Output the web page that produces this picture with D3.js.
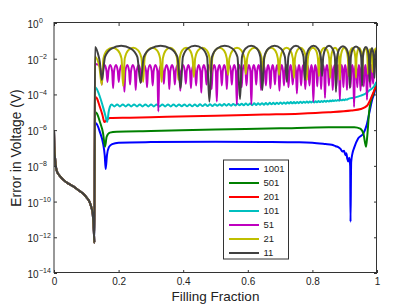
<!DOCTYPE html>
<html lang="en">
<head>
<meta charset="UTF-8">
<title>Error in Voltage</title>
<script src="https://d3js.org/d3.v7.min.js"></script>
<style>
  body { margin: 0; background: #fff; }
  text { font-family: "Liberation Sans", Arial, Helvetica, sans-serif; fill: #222; }
</style>
</head>
<body>
<svg id="chart"></svg>
<script>
var width = 415, height = 308;

// x ticks and log10 exponents of the y ticks
var xTicks = [0, 0.2, 0.4, 0.6, 0.8, 1];
var yTickExps = [0, -2, -4, -6, -8, -10, -12, -14];

var seriesNames = ["1001", "501", "201", "101", "51", "21", "11"];

// points are [filling fraction, log10(error)]
// part every run shares before the jump
var head = [[0,-6.0],[0.001,-6.9],[0.003,-7.5],[0.008,-8.25],[0.015,-8.5],[0.022,-8.65],[0.03,-8.8],
  [0.045,-9.0],[0.06,-9.15],[0.075,-9.35],[0.09,-9.55],[0.1,-9.75],[0.11,-10.02],[0.116,-10.35],
  [0.12,-10.7],[0.122,-11.2],[0.1235,-11.7],[0.125,-12.3]];

var tail1001 = [[0.127,-5.6],[0.132,-5.65],[0.142,-6.1],[0.152,-6.75],[0.157,-7.4],[0.160,-8.18],[0.164,-7.4],
  [0.17,-6.95],[0.18,-6.78],[0.2,-6.7],[0.3,-6.67],[0.5,-6.65],[0.65,-6.66],[0.76,-6.68],[0.8,-6.71],[0.84,-6.78],
  [0.86,-6.82],[0.872,-6.9],[0.88,-6.95],[0.887,-7.05],[0.893,-7.2],[0.898,-7.15],[0.902,-7.4],[0.905,-7.3],
  [0.908,-7.6],[0.911,-7.75],[0.914,-7.55],[0.917,-8.0],[0.918,-11.13],[0.92,-7.8],[0.924,-7.3],[0.93,-6.95],
  [0.942,-6.46],[0.958,-6.18],[0.968,-5.71],[0.978,-4.87],[0.985,-4.3],[0.992,-3.9],[0.998,-3.4]];

var tail501 = [[0.127,-5.0],[0.132,-5.05],[0.142,-5.53],[0.152,-6.18],[0.158,-6.93],[0.163,-6.37],[0.173,-6.14],
  [0.194,-6.09],[0.3,-6.05],[0.5,-5.97],[0.7,-5.9],[0.85,-5.84],[0.93,-5.84],[0.948,-5.92],[0.958,-6.2],
  [0.966,-6.93],[0.970,-6.3],[0.976,-4.9],[0.981,-4.4],[0.99,-3.9],[0.998,-3.4]];

var tail201 = [[0.127,-4.15],[0.132,-4.2],[0.142,-4.7],[0.150,-5.15],[0.156,-5.55],[0.163,-5.42],[0.173,-5.32],
  [0.235,-5.3],[0.35,-5.25],[0.5,-5.2],[0.65,-5.13],[0.76,-5.08],[0.85,-5.0],[0.92,-4.9],[0.95,-4.82],
  [0.97,-4.62],[0.978,-4.35],[0.985,-4.05],[0.992,-3.75],[0.998,-3.4]];

var tail101 = [[0.127,-3.6],[0.132,-3.68],[0.142,-4.13],[0.153,-4.78],[0.160,-5.25],[0.165,-5.53],[0.169,-5.0],[0.173,-4.7],
  [0.178,-4.56],[0.187,-4.67],[0.1955,-4.56],[0.204,-4.67],[0.213,-4.56],[0.222,-4.67],[0.2305,-4.56],[0.239,-4.67],
  [0.248,-4.56],[0.257,-4.67],[0.2655,-4.56],[0.274,-4.67],[0.283,-4.56],[0.292,-4.67],[0.3005,-4.56],[0.309,-4.67],
  [0.318,-4.56],[0.327,-4.67],[0.3355,-4.56],[0.344,-4.67],[0.353,-4.56],[0.3615,-4.67],[0.370,-4.56],[0.3785,-4.67],
  [0.387,-4.56],[0.3955,-4.66],[0.404,-4.56],[0.412,-4.66],[0.420,-4.56],[0.428,-4.66],[0.436,-4.56],[0.444,-4.66],
  [0.452,-4.55],[0.460,-4.65],[0.468,-4.55],[0.4755,-4.65],[0.483,-4.55],[0.4905,-4.65],[0.498,-4.55],
  [0.5055,-4.64],[0.513,-4.55],[0.520,-4.64],[0.527,-4.54],[0.534,-4.63],[0.541,-4.54],[0.548,-4.63],[0.555,-4.53],
  [0.5615,-4.62],[0.568,-4.52],[0.5745,-4.61],[0.581,-4.52],[0.5875,-4.61],[0.594,-4.51],[0.6005,-4.6],[0.607,-4.51],
  [0.6135,-4.6],[0.620,-4.5],[0.626,-4.59],[0.632,-4.5],[0.638,-4.58],[0.644,-4.49],[0.650,-4.58],[0.656,-4.48],
  [0.662,-4.57],[0.668,-4.47],[0.6735,-4.55],[0.679,-4.47],[0.6845,-4.55],[0.690,-4.46],[0.6955,-4.54],[0.701,-4.45],
  [0.7065,-4.53],[0.712,-4.45],[0.7175,-4.52],[0.723,-4.44],[0.728,-4.51],[0.733,-4.43],[0.738,-4.5],[0.743,-4.43],
  [0.748,-4.5],[0.753,-4.42],[0.758,-4.49],[0.763,-4.41],[0.768,-4.48],[0.773,-4.41],[0.778,-4.47],[0.783,-4.4],
  [0.7875,-4.46],[0.792,-4.39],[0.7965,-4.45],[0.801,-4.39],[0.8055,-4.45],[0.810,-4.38],[0.8145,-4.44],[0.819,-4.37],
  [0.8235,-4.43],[0.828,-4.37],[0.8325,-4.42],[0.837,-4.36],[0.8415,-4.41],[0.846,-4.35],[0.8505,-4.4],[0.855,-4.34],
  [0.859,-4.38],[0.863,-4.33],[0.867,-4.37],[0.871,-4.32],[0.875,-4.36],[0.879,-4.31],[0.883,-4.35],[0.887,-4.3],
  [0.891,-4.33],[0.895,-4.29],[0.899,-4.32],[0.903,-4.27],[0.907,-4.3],[0.911,-4.25],
  [0.93,-4.18],[0.95,-4.07],[0.965,-3.95],[0.978,-3.75],[0.99,-3.57],[0.998,-3.3]];

var tail51 = [[0.127,-2.3],[0.138,-2.35],
  [0.145,-2.7],[0.148,-3.45],[0.151,-2.7],[0.157,-2.35],
  [0.1625,-2.7],[0.1655,-3.3],[0.1685,-2.7],[0.174,-2.35],
  [0.180,-2.7],[0.183,-3.65],[0.186,-2.7],[0.192,-2.35],
  [0.1975,-2.7],[0.2005,-3.3],[0.2035,-2.7],[0.209,-2.35],
  [0.215,-2.7],[0.218,-3.85],[0.221,-2.7],[0.227,-2.35],
  [0.2325,-2.7],[0.2355,-3.45],[0.2385,-2.7],[0.244,-2.35],
  [0.250,-2.7],[0.253,-3.75],[0.256,-2.7],[0.262,-2.35],
  [0.2675,-2.7],[0.2705,-3.3],[0.2735,-2.7],[0.279,-2.35],
  [0.285,-2.7],[0.288,-3.6],[0.291,-2.7],[0.297,-2.35],
  [0.3025,-2.7],[0.3055,-3.5],[0.3085,-2.7],[0.314,-2.35],
  [0.320,-2.7],[0.323,-4.95],[0.326,-2.7],[0.3315,-2.35],
  [0.337,-2.7],[0.340,-3.4],[0.343,-2.7],[0.3485,-2.35],
  [0.354,-2.7],[0.357,-3.7],[0.360,-2.7],[0.3655,-2.35],
  [0.371,-2.7],[0.374,-3.45],[0.377,-2.7],[0.3825,-2.35],
  [0.388,-2.7],[0.391,-3.8],[0.394,-2.7],[0.3995,-2.35],
  [0.405,-2.7],[0.408,-3.4],[0.411,-2.7],[0.416,-2.35],
  [0.421,-2.7],[0.424,-3.65],[0.427,-2.7],[0.432,-2.35],
  [0.437,-2.7],[0.440,-3.5],[0.443,-2.7],[0.448,-2.35],
  [0.453,-2.7],[0.456,-3.9],[0.459,-2.7],[0.464,-2.35],
  [0.469,-2.7],[0.472,-3.45],[0.475,-2.7],[0.480,-2.35],
  [0.485,-2.7],[0.488,-3.7],[0.491,-2.7],[0.496,-2.35],
  [0.501,-2.7],[0.504,-4.4],[0.507,-2.7],[0.512,-2.35],
  [0.5165,-2.7],[0.5195,-3.5],[0.5225,-2.7],[0.527,-2.35],
  [0.532,-2.7],[0.535,-3.7],[0.538,-2.7],[0.543,-2.35],
  [0.5475,-2.7],[0.5505,-3.45],[0.5535,-2.7],[0.558,-2.35],
  [0.563,-2.7],[0.566,-4.55],[0.569,-2.7],[0.5735,-2.35],
  [0.578,-2.7],[0.581,-3.6],[0.584,-2.7],[0.5885,-2.35],
  [0.593,-2.7],[0.596,-3.5],[0.599,-2.7],[0.6035,-2.35],
  [0.608,-2.7],[0.611,-4.55],[0.614,-2.7],[0.6185,-2.35],
  [0.623,-2.7],[0.626,-3.45],[0.629,-2.7],[0.6335,-2.35],
  [0.638,-2.7],[0.641,-3.75],[0.644,-2.7],[0.6485,-2.35],
  [0.653,-2.7],[0.656,-3.5],[0.659,-2.7],[0.663,-2.35],
  [0.667,-2.7],[0.670,-3.65],[0.673,-2.7],[0.677,-2.35],
  [0.681,-2.7],[0.684,-3.45],[0.687,-2.7],[0.691,-2.35],
  [0.695,-2.7],[0.698,-3.8],[0.701,-2.7],[0.705,-2.35],
  [0.709,-2.7],[0.712,-3.5],[0.715,-2.7],[0.719,-2.35],
  [0.723,-2.7],[0.726,-3.6],[0.729,-2.7],[0.7325,-2.35],
  [0.736,-2.7],[0.739,-3.45],[0.742,-2.7],[0.7455,-2.35],
  [0.749,-2.7],[0.752,-3.95],[0.755,-2.7],[0.7585,-2.35],
  [0.762,-2.7],[0.765,-3.5],[0.768,-2.7],[0.7715,-2.35],
  [0.775,-2.7],[0.778,-3.7],[0.781,-2.7],[0.7845,-2.35],
  [0.788,-2.7],[0.791,-3.5],[0.794,-2.7],[0.797,-2.35],
  [0.800,-2.7],[0.803,-4.4],[0.806,-2.7],[0.809,-2.35],
  [0.8125,-2.7],[0.815,-3.55],[0.8175,-2.7],[0.821,-2.35],
  [0.8245,-2.7],[0.827,-3.7],[0.8295,-2.7],[0.833,-2.35],
  [0.8365,-2.7],[0.839,-4.2],[0.8415,-2.7],[0.845,-2.35],
  [0.8485,-2.7],[0.851,-3.5],[0.8535,-2.7],[0.857,-2.35],
  [0.8605,-2.7],[0.863,-3.75],[0.8655,-2.7],[0.8685,-2.35],
  [0.8715,-2.7],[0.874,-3.55],[0.8765,-2.7],[0.8795,-2.35],
  [0.8825,-2.7],[0.885,-4.3],[0.8875,-2.7],[0.8905,-2.35],
  [0.8935,-2.7],[0.896,-3.6],[0.8985,-2.7],[0.9015,-2.35],
  [0.9045,-2.7],[0.907,-3.75],[0.9095,-2.7],[0.9125,-2.35],
  [0.9155,-2.7],[0.918,-3.6],[0.9205,-2.7],[0.9235,-2.35],
  [0.9265,-2.7],[0.929,-4.7],[0.9315,-2.7],[0.934,-2.35],
  [0.9365,-2.7],[0.939,-3.6],[0.9415,-2.7],[0.944,-2.35],
  [0.9465,-2.7],[0.949,-3.8],[0.9515,-2.7],[0.954,-2.35],
  [0.9565,-2.7],[0.959,-3.55],[0.9615,-2.7],[0.964,-2.35],
  [0.9665,-2.7],[0.969,-4.3],[0.9715,-2.7],[0.974,-2.35],
  [0.9765,-2.7],[0.979,-3.6],[0.9815,-2.7],[0.9835,-2.35],
  [0.9855,-2.7],[0.988,-3.4],[0.9905,-2.6],[0.994,-2.2],[0.998,-1.7]];

var tail21 = [[0.127,-1.9],[0.14,-2.4],[0.148,-3.47],
  [0.153,-1.98],[0.1645,-1.53],[0.181,-1.38],[0.1975,-1.53],[0.209,-1.98],[0.214,-3.53],
  [0.219,-1.98],[0.2295,-1.53],[0.245,-1.38],[0.2605,-1.53],[0.271,-1.98],[0.276,-3.3],
  [0.2805,-1.98],[0.290,-1.53],[0.3045,-1.38],[0.319,-1.53],[0.3285,-1.98],[0.333,-3.3],
  [0.337,-1.98],[0.346,-1.53],[0.359,-1.38],[0.372,-1.53],[0.381,-1.98],[0.385,-3.19],
  [0.389,-1.98],[0.397,-1.53],[0.409,-1.38],[0.421,-1.53],[0.429,-1.98],[0.433,-3.02],
  [0.437,-1.98],[0.446,-1.53],[0.4595,-1.38],[0.473,-1.53],[0.482,-1.98],[0.486,-2.97],
  [0.490,-1.98],[0.499,-1.53],[0.5125,-1.38],[0.526,-1.53],[0.535,-1.98],[0.539,-2.91],
  [0.543,-1.98],[0.553,-1.53],[0.5665,-1.38],[0.580,-1.53],[0.590,-1.98],[0.594,-2.86],
  [0.598,-1.98],[0.607,-1.53],[0.6205,-1.38],[0.634,-1.53],[0.643,-1.98],[0.647,-2.74],
  [0.651,-1.98],[0.6595,-1.53],[0.672,-1.38],[0.6845,-1.53],[0.693,-1.98],[0.697,-2.91],
  [0.7005,-1.98],[0.7085,-1.53],[0.720,-1.38],[0.7315,-1.53],[0.7395,-1.98],[0.743,-3.08],
  [0.746,-1.98],[0.753,-1.53],[0.763,-1.38],[0.773,-1.53],[0.780,-1.98],[0.783,-3.19],
  [0.786,-1.98],[0.792,-1.53],[0.8015,-1.38],[0.811,-1.53],[0.817,-1.98],[0.820,-2.97],
  [0.823,-1.98],[0.829,-1.53],[0.8375,-1.38],[0.846,-1.53],[0.852,-1.98],[0.855,-3.08],
  [0.8575,-1.98],[0.8625,-1.53],[0.870,-1.38],[0.8775,-1.53],[0.8825,-1.98],[0.885,-3.19],
  [0.887,-1.98],[0.892,-1.53],[0.8985,-1.38],[0.905,-1.53],[0.910,-1.98],[0.912,-2.97],
  [0.914,-1.98],[0.918,-1.53],[0.9235,-1.4],[0.929,-1.53],[0.933,-1.98],[0.935,-3.08],
  [0.9365,-1.98],[0.940,-1.55],[0.945,-1.4],[0.950,-1.55],[0.9535,-1.98],[0.955,-2.91],
  [0.9565,-1.98],[0.959,-1.55],[0.9635,-1.42],[0.968,-1.55],[0.9705,-1.98],[0.972,-2.86],
  [0.9735,-1.98],[0.979,-1.45],[0.9845,-1.98],[0.986,-2.74],
  [0.988,-1.98],[0.993,-1.5],[0.998,-1.4]];

var tail11 = [[0.127,-1.35],[0.135,-1.65],[0.142,-2.2],[0.148,-3.19],
  [0.158,-1.9],[0.178,-1.43],[0.208,-1.28],[0.238,-1.43],[0.258,-1.9],[0.268,-3.36],
  [0.278,-1.9],[0.299,-1.43],[0.330,-1.28],[0.361,-1.43],[0.382,-1.9],[0.392,-3.64],
  [0.399,-1.9],[0.414,-1.43],[0.4365,-1.28],[0.459,-1.43],[0.474,-1.9],[0.481,-4.41],
  [0.489,-1.9],[0.505,-1.43],[0.5285,-1.28],[0.552,-1.43],[0.568,-1.9],[0.576,-4.26],
  [0.582,-1.9],[0.593,-1.43],[0.6105,-1.28],[0.628,-1.43],[0.639,-1.9],[0.645,-3.75],
  [0.651,-1.9],[0.664,-1.43],[0.683,-1.28],[0.702,-1.43],[0.715,-1.9],[0.721,-3.3],
  [0.7255,-1.9],[0.735,-1.43],[0.749,-1.28],[0.763,-1.43],[0.7725,-1.9],[0.777,-3.19],
  [0.781,-1.9],[0.790,-1.43],[0.8035,-1.28],[0.817,-1.43],[0.826,-1.9],[0.830,-2.97],
  [0.8335,-1.9],[0.841,-1.43],[0.8515,-1.28],[0.862,-1.43],[0.8695,-1.9],[0.873,-3.86],
  [0.8765,-1.9],[0.884,-1.43],[0.8945,-1.3],[0.905,-1.43],[0.9125,-1.9],[0.916,-3.64],
  [0.919,-1.9],[0.9255,-1.45],[0.935,-1.32],[0.9445,-1.45],[0.951,-1.9],[0.954,-3.53],
  [0.956,-1.95],[0.960,-1.5],[0.9655,-1.35],[0.971,-1.5],[0.975,-1.95],[0.977,-3.3],
  [0.979,-1.95],[0.9845,-1.4],[0.990,-1.95],[0.992,-3.08],
  [0.995,-1.8],[0.998,-1.5]];

var tails = [tail1001, tail501, tail201, tail101, tail51, tail21, tail11];
var colors = ["#0000ff", "#008000", "#ff0000", "#00bfbf", "#bf00bf", "#bfbf00", "#404040"];

var margin = {left: 54, right: 38, top: 23, bottom: 35};
var x0 = margin.left, x1 = width - margin.right, y0 = margin.top, y1 = height - margin.bottom;

var svg = d3.select("#chart").attr("width", width).attr("height", height);

var x = d3.scaleLinear().domain([0, 1]).range([x0, x1]);
var y = d3.scaleLog().domain([1e-14, 1]).range([y1, y0]);

svg.append("defs").append("clipPath").attr("id", "plotclip")
    .append("rect").attr("x", x0).attr("y", y0).attr("width", x1 - x0).attr("height", y1 - y0);

var line = d3.line()
    .x(function (d) { return x(d[0]); })
    .y(function (d) { return y(Math.pow(10, d[1])); })
    .curve(d3.curveMonotoneX);

var plot = svg.append("g").attr("clip-path", "url(#plotclip)");
tails.forEach(function (t, i) {
    plot.append("path")
        .datum(head.concat(t))
        .attr("d", line)
        .attr("fill", "none")
        .attr("stroke", colors[i])
        .attr("stroke-width", 2)
        .attr("stroke-linejoin", "round");
});

// axes, ticks pointing inward on all four sides
var yTickVals = yTickExps.map(function (e) { return Math.pow(10, e); });

var gx = svg.append("g").attr("transform", "translate(0," + y1 + ")")
    .call(d3.axisBottom(x).tickValues(xTicks).tickSizeInner(-3).tickSizeOuter(0).tickPadding(5)
        .tickFormat(function (d) { return d; }));
svg.append("g").attr("transform", "translate(0," + y0 + ")")
    .call(d3.axisTop(x).tickValues(xTicks).tickSizeInner(-3).tickSizeOuter(0).tickFormat(""));
svg.append("g").attr("transform", "translate(" + x0 + ",0)")
    .call(d3.axisLeft(y).tickValues(yTickVals).tickSizeInner(-3).tickSizeOuter(0).tickFormat(""));
svg.append("g").attr("transform", "translate(" + x1 + ",0)")
    .call(d3.axisRight(y).tickValues(yTickVals).tickSizeInner(-3).tickSizeOuter(0).tickFormat(""));

svg.selectAll(".domain").remove();
svg.selectAll(".tick line").attr("stroke", "#333");
gx.selectAll("text").attr("font-size", 10).style("font-family", "Liberation Sans, Arial, sans-serif").attr("fill", "#222");

svg.append("rect")
    .attr("x", x0).attr("y", y0 - 0.5).attr("width", x1 - x0 - 0.5).attr("height", y1 - y0)
    .attr("fill", "none").attr("stroke", "#333").attr("stroke-width", 1);

// y tick labels as 10 with a superscript exponent
var ylab = svg.append("g");
yTickExps.forEach(function (e) {
    var ty = y(Math.pow(10, e));
    ylab.append("text").attr("x", 38.5).attr("y", ty + 5).attr("text-anchor", "end")
        .attr("font-size", 10).text("10");
    ylab.append("text").attr("x", 39).attr("y", ty + 0.3).attr("text-anchor", "start")
        .attr("font-size", 7).text(e < 0 ? "\u2212" + (-e) : String(e));
});

svg.append("text").attr("x", (x0 + x1) / 2).attr("y", 301).attr("text-anchor", "middle")
    .attr("font-size", 13.5).text("Filling Fraction");
svg.append("text").attr("transform", "translate(21," + ((y0 + y1) / 2) + ") rotate(-90)")
    .attr("text-anchor", "middle").attr("font-size", 13.8).text("Error in Voltage (V)");

// legend
var lg = svg.append("g").attr("transform", "translate(223,160)");
lg.append("rect").attr("x", 0.5).attr("y", 0).attr("width", 65).attr("height", 99)
    .attr("fill", "#fff").attr("stroke", "#333").attr("stroke-width", 1);
seriesNames.forEach(function (name, i) {
    var ly = 9 + i * 14;
    lg.append("line").attr("x1", 6).attr("x2", 36).attr("y1", ly).attr("y2", ly)
        .attr("stroke", colors[i]).attr("stroke-width", 2);
    lg.append("text").attr("x", 40.5).attr("y", ly + 3.4).attr("font-size", 9.5).text(name);
});
</script>
</body>
</html>
